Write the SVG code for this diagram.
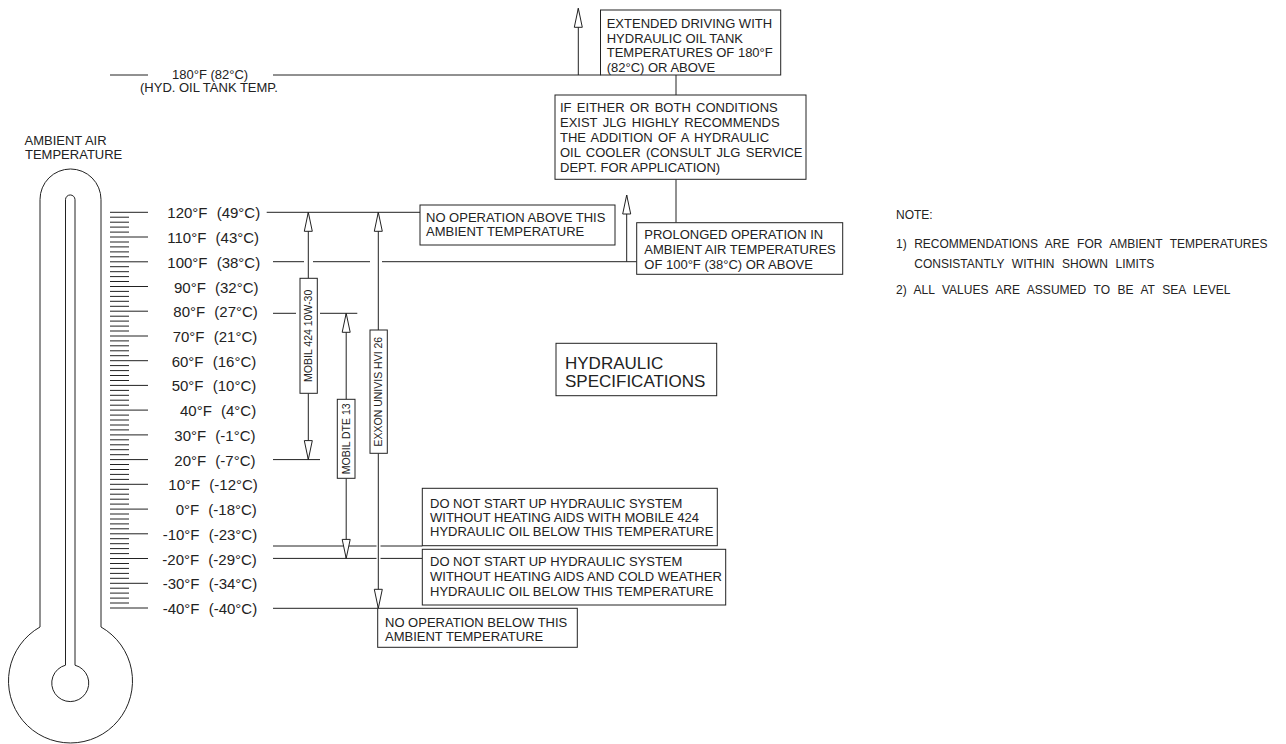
<svg xmlns="http://www.w3.org/2000/svg" width="1286" height="744" viewBox="0 0 1286 744">
<style>
text{font-family:"Liberation Sans",Arial,sans-serif;fill:#222;}
.t13{font-size:13px;}
.t15{font-size:15px;word-spacing:5px;}
.t12{font-size:12px;word-spacing:4.2px;}
.t17{font-size:17px;}
.rot{font-size:10.5px;text-anchor:middle;}
.ln{stroke:#222;stroke-width:1;fill:none;}
.box{stroke:#222;stroke-width:1;fill:#fff;}
.arr{stroke:#222;stroke-width:1;fill:none;marker-end:url(#ah);}
</style>
<defs>
<marker id="ah" viewBox="-20 -5 21 10" refX="0" refY="0" markerWidth="21" markerHeight="10" orient="auto" markerUnits="userSpaceOnUse" overflow="visible">
<path d="M0,0 L-19,-4 L-19,4 Z" fill="#fff" stroke="#222" stroke-width="1"/>
</marker>
</defs>
<rect width="1286" height="744" fill="#fff"/>

<g id="thermometer">
<path class="ln" d="M40,627 L40,199.5 A30.5,30.5 0 0 1 101,199.5 L101,627 A62,62 0 1 1 40,627 Z"/>
<path class="ln" d="M65.5,665.2 L65.5,199.7 A4.75,4.75 0 0 1 75,199.7 L75,665.2 A18.5,18.5 0 1 1 65.5,665.2 Z"/>
<path class="ln" d="M110,212.3h38M110,237h38M110,261.8h38M110,286.5h38M110,311.2h38M110,336h38M110,360.7h38M110,385.4h38M110,410.1h38M110,434.9h38M110,459.6h38M110,484.3h38M110,509.1h38M110,533.8h38M110,558.5h38M110,583.3h38M110,608h38"/>
<path class="ln" d="M110,217.2h19M110,222.2h19M110,227.1h19M110,232.1h19M110,242h19M110,246.9h19M110,251.9h19M110,256.8h19M110,266.7h19M110,271.7h19M110,276.6h19M110,281.5h19M110,291.4h19M110,296.4h19M110,301.3h19M110,306.3h19M110,316.2h19M110,321.1h19M110,326.1h19M110,331h19M110,340.9h19M110,345.8h19M110,350.8h19M110,355.7h19M110,365.6h19M110,370.6h19M110,375.5h19M110,380.5h19M110,390.4h19M110,395.3h19M110,400.2h19M110,405.2h19M110,415.1h19M110,420h19M110,425h19M110,429.9h19M110,439.8h19M110,444.8h19M110,449.7h19M110,454.7h19M110,464.5h19M110,469.5h19M110,474.4h19M110,479.4h19M110,489.3h19M110,494.2h19M110,499.2h19M110,504.1h19M110,514h19M110,519h19M110,523.9h19M110,528.8h19M110,538.7h19M110,543.7h19M110,548.6h19M110,553.6h19M110,563.5h19M110,568.4h19M110,573.4h19M110,578.3h19M110,588.2h19M110,593.1h19M110,598.1h19M110,603h19"/>
<text class="t13" x="24.5" y="145">AMBIENT AIR</text>
<text class="t13" x="25" y="159">TEMPERATURE</text>
</g>

<g id="scale-labels">
<text class="t15" x="167.3" y="218.3">120°F (49°C)</text>
<text class="t15" x="167.3" y="243">110°F (43°C)</text>
<text class="t15" x="167.3" y="267.8">100°F (38°C)</text>
<text class="t15" x="174" y="292.5">90°F (32°C)</text>
<text class="t15" x="173.3" y="317.2">80°F (27°C)</text>
<text class="t15" x="172.7" y="342">70°F (21°C)</text>
<text class="t15" x="171.7" y="366.7">60°F (16°C)</text>
<text class="t15" x="171.7" y="391.4">50°F (10°C)</text>
<text class="t15" x="180" y="416.1">40°F (4°C)</text>
<text class="t15" x="174.3" y="440.9">30°F (-1°C)</text>
<text class="t15" x="174.3" y="465.6">20°F (-7°C)</text>
<text class="t15" x="168.3" y="490.3">10°F (-12°C)</text>
<text class="t15" x="175.7" y="515.1">0°F (-18°C)</text>
<text class="t15" x="162.7" y="539.8">-10°F (-23°C)</text>
<text class="t15" x="162.3" y="564.5">-20°F (-29°C)</text>
<text class="t15" x="162.7" y="589.3">-30°F (-34°C)</text>
<text class="t15" x="162.7" y="614">-40°F (-40°C)</text>
</g>

<g id="label-180">
<text class="t13" x="172" y="78.5">180°F (82°C)</text>
<text class="t13" x="140" y="92">(HYD. OIL TANK TEMP.</text>
</g>

<g id="connectors">
<path class="ln" d="M110,75H148M273,75H600.5"/>
<path class="ln" d="M266.7,212.3H420"/>
<path class="ln" d="M273,261.7H304M313,261.7H370M382,261.7H636.7"/>
<path class="ln" d="M273,313.3H296M320,313.3H357.3"/>
<path class="ln" d="M273,459.6H320"/>
<path class="ln" d="M273,546H376.5M380.5,546H422.3"/>
<path class="ln" d="M273,558.4H376.5M380.5,558.4H422.3"/>
<path class="ln" d="M273,608.3H377.7"/>
<path class="ln" d="M676,75V95M676,179.3V222.7"/>
<path class="arr" d="M308.3,278.3V212.3"/>
<path class="arr" d="M308.3,393.3V459.6"/>
<path class="arr" d="M346.2,399.3V313.3"/>
<path class="arr" d="M346.2,478.3V558.4"/>
<path class="arr" d="M378.3,330V212.3"/>
<path class="arr" d="M378.3,453.3V608.3"/>
<path class="arr" d="M578.3,75V8.3"/>
<path class="arr" d="M626.7,261.7V195"/>
</g>

<g id="oil-mobil424">
<rect class="box" x="300" y="278.3" width="17.3" height="115"/>
<text class="rot" transform="translate(308.7,335.8) rotate(-90)" dy="3.7">MOBIL 424 10W-30</text>
</g>
<g id="oil-mobil-dte13">
<rect class="box" x="337.3" y="399.3" width="17.7" height="79"/>
<text class="rot" transform="translate(346.2,438.8) rotate(-90)" dy="3.7">MOBIL DTE 13</text>
</g>
<g id="oil-exxon">
<rect class="box" x="370" y="330" width="17.3" height="123.3"/>
<text class="rot" transform="translate(378.7,391.7) rotate(-90)" dy="3.7">EXXON UNIVIS HVI 26</text>
</g>

<g id="box-extended">
<rect class="box" x="600.5" y="10" width="180.2" height="65"/>
<text class="t13" x="606.7" y="28.3">EXTENDED DRIVING WITH</text>
<text class="t13" x="606.7" y="42.7">HYDRAULIC OIL TANK</text>
<text class="t13" x="606.7" y="57.2">TEMPERATURES OF 180°F</text>
<text class="t13" x="606.7" y="71.6">(82°C) OR ABOVE</text>
</g>

<g id="box-recommend">
<rect class="box" x="555" y="95" width="251" height="84.3"/>
<text class="t13" x="560" y="112.3" word-spacing="1.7">IF EITHER OR BOTH CONDITIONS</text>
<text class="t13" x="560" y="127.2" word-spacing="1.7">EXIST JLG HIGHLY RECOMMENDS</text>
<text class="t13" x="560" y="142.1" word-spacing="1.7">THE ADDITION OF A HYDRAULIC</text>
<text class="t13" x="560" y="157" word-spacing="1.7">OIL COOLER (CONSULT JLG SERVICE</text>
<text class="t13" x="560" y="171.9">DEPT. FOR APPLICATION)</text>
</g>

<g id="box-prolonged">
<rect class="box" x="636.7" y="222.7" width="206" height="51.6"/>
<text class="t13" x="644.3" y="239">PROLONGED OPERATION IN</text>
<text class="t13" x="644.3" y="254">AMBIENT AIR TEMPERATURES</text>
<text class="t13" x="644.3" y="269">OF 100°F (38°C) OR ABOVE</text>
</g>

<g id="box-no-op-above">
<rect class="box" x="420" y="205" width="195" height="40"/>
<text class="t13" x="426" y="221.7">NO OPERATION ABOVE THIS</text>
<text class="t13" x="426" y="236">AMBIENT TEMPERATURE</text>
</g>

<g id="box-hydraulic-spec">
<rect class="box" x="556" y="343.3" width="160.7" height="52.4"/>
<text class="t17" x="565" y="368.5">HYDRAULIC</text>
<text class="t17" x="565" y="387">SPECIFICATIONS</text>
</g>

<g id="box-mobil424-start">
<rect class="box" x="422.3" y="488.3" width="295" height="57.4"/>
<text class="t13" x="430" y="507.7">DO NOT START UP HYDRAULIC SYSTEM</text>
<text class="t13" x="430" y="522">WITHOUT HEATING AIDS WITH MOBILE 424</text>
<text class="t13" x="430" y="536.4">HYDRAULIC OIL BELOW THIS TEMPERATURE</text>
</g>

<g id="box-cold-start">
<rect class="box" x="422.3" y="549.3" width="303.4" height="55.7"/>
<text class="t13" x="430" y="566.4">DO NOT START UP HYDRAULIC SYSTEM</text>
<text class="t13" x="430" y="581.4">WITHOUT HEATING AIDS AND COLD WEATHER</text>
<text class="t13" x="430" y="596.4">HYDRAULIC OIL BELOW THIS TEMPERATURE</text>
</g>

<g id="box-no-op-below">
<rect class="box" x="377.7" y="608.3" width="199.6" height="39"/>
<text class="t13" x="385" y="626.7">NO OPERATION BELOW THIS</text>
<text class="t13" x="385" y="641">AMBIENT TEMPERATURE</text>
</g>

<g id="note">
<text class="t12" x="896" y="219.3">NOTE:</text>
<text class="t12" x="896" y="247.7">1) RECOMMENDATIONS ARE FOR AMBIENT TEMPERATURES</text>
<text class="t12" x="914.3" y="267.7">CONSISTANTLY WITHIN SHOWN LIMITS</text>
<text class="t12" x="896" y="294">2) ALL VALUES ARE ASSUMED TO BE AT SEA LEVEL</text>
</g>
</svg>
